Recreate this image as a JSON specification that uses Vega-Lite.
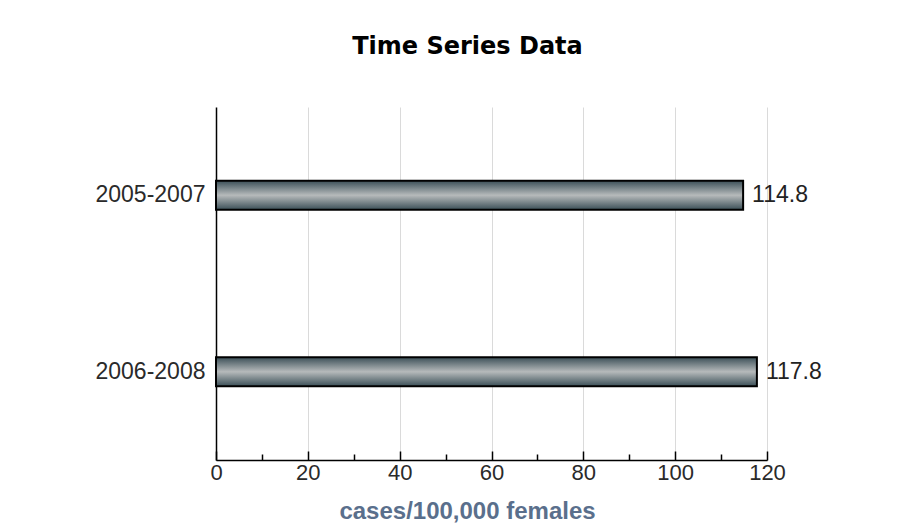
{
  "$schema": "https://vega.github.io/schema/vega-lite/v6.json",
  "width": 551,
  "height": 353,
  "autosize": {"type": "none"},
  "padding": {"left": 216, "top": 107, "right": 147, "bottom": 71},
  "background": "white",
  "title": {
    "text": "Time Series Data",
    "font": "DejaVu Sans",
    "fontSize": 24,
    "fontWeight": "bold",
    "color": "#000000",
    "anchor": "middle",
    "frame": "group",
    "baseline": "alphabetic",
    "offset": 29,
    "dx": -24
  },
  "config": {
    "view": {"stroke": null},
    "font": "Liberation Sans"
  },
  "data": {
    "values": [
      {"period": "2005-2007", "rate": 114.8},
      {"period": "2006-2008", "rate": 117.8}
    ]
  },
  "encoding": {
    "y": {
      "field": "period",
      "type": "nominal",
      "sort": null,
      "title": null,
      "axis": {
        "domainColor": "#000000",
        "domainWidth": 1.5,
        "ticks": false,
        "grid": false,
        "labelFont": "Liberation Sans",
        "labelFontSize": 23,
        "labelColor": "#2a2a2a",
        "labelPadding": 11
      }
    },
    "x": {
      "field": "rate",
      "type": "quantitative",
      "scale": {"domain": [0, 120], "nice": false},
      "title": "cases/100,000 females",
      "axis": {
        "values": [0, 10, 20, 30, 40, 50, 60, 70, 80, 90, 100, 110, 120],
        "labelExpr": "datum.value % 20 === 0 ? datum.label : ''",
        "domainColor": "#000000",
        "domainWidth": 1.5,
        "tickColor": "#000000",
        "tickWidth": 1.5,
        "tickSize": {"condition": {"test": "datum.value % 20 === 0", "value": -9}, "value": -6},
        "grid": true,
        "gridColor": "#dadada",
        "gridWidth": 1,
        "gridOpacity": {"condition": {"test": "datum.value % 20 === 0 && datum.value > 0", "value": 1}, "value": 0},
        "labelFont": "Liberation Sans",
        "labelFontSize": 22,
        "labelColor": "#2a2a2a",
        "labelPadding": 11,
        "labelFlush": false,
        "titleFont": "Liberation Sans",
        "titleFontSize": 24,
        "titleFontWeight": "bold",
        "titleColor": "#5a6f8c",
        "titleBaseline": "alphabetic",
        "titleX": 251,
        "titleY": 58
      }
    }
  },
  "layer": [
    {
      "mark": {
        "type": "bar",
        "height": 29,
        "stroke": "#000000",
        "strokeWidth": 2,
        "color": {
          "gradient": "linear",
          "x1": 0, "y1": 0, "x2": 0, "y2": 1,
          "stops": [
            {"offset": 0, "color": "#3b4f57"},
            {"offset": 0.5, "color": "#b6babb"},
            {"offset": 1, "color": "#3b4f57"}
          ]
        }
      }
    },
    {
      "mark": {
        "type": "text",
        "align": "left",
        "baseline": "middle",
        "dx": 9,
        "font": "Liberation Sans",
        "fontSize": 23,
        "color": "#222222"
      },
      "encoding": {
        "text": {"field": "rate", "type": "quantitative", "format": ".1f"}
      }
    }
  ]
}
